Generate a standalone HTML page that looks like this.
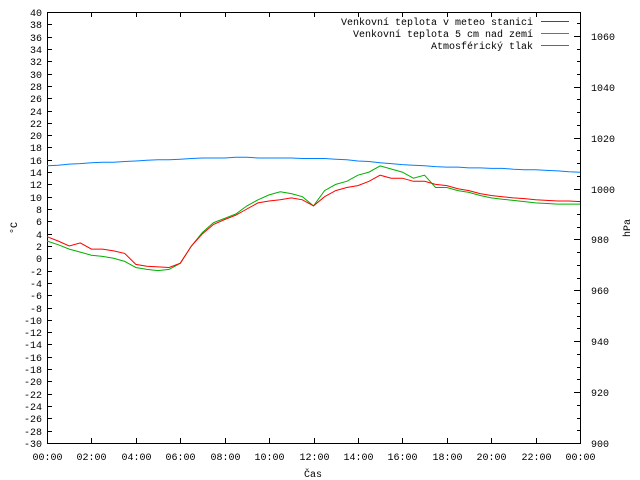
<!DOCTYPE html>
<html><head><meta charset="utf-8"><style>
body{margin:0;background:#fff}
svg{display:block}
text{font-family:"Liberation Mono","DejaVu Sans Mono",monospace;font-size:10px;fill:#000}
line,rect{shape-rendering:crispEdges}
</style></head><body>
<svg id="chart" width="640" height="480"></svg>
<script>
const timeLabels=["00:00","02:00","04:00","06:00","08:00","10:00","12:00","14:00","16:00","18:00","20:00","22:00","00:00"];
const hours=[0,0.5,1,1.5,2,2.5,3,3.5,4,4.5,5,5.5,6,6.5,7,7.5,8,8.5,9,9.5,10,10.5,11,11.5,12,12.5,13,13.5,14,14.5,15,15.5,16,16.5,17,17.5,18,18.5,19,19.5,20,20.5,21,21.5,22,22.5,23,23.5,24];
const tempStation=[3.5,2.8,2.0,2.5,1.5,1.5,1.2,0.8,-1.0,-1.3,-1.4,-1.5,-0.8,2.0,4.0,5.5,6.3,7.0,8.0,9.0,9.3,9.5,9.8,9.5,8.5,10,11,11.5,11.8,12.5,13.5,13,13,12.5,12.5,12.0,11.8,11.3,11.0,10.5,10.2,10.0,9.8,9.7,9.5,9.4,9.3,9.3,9.2];
const tempGround=[2.8,2.2,1.5,1.0,0.5,0.3,0,-0.5,-1.5,-1.8,-2.0,-1.8,-0.8,2.0,4.2,5.8,6.5,7.2,8.5,9.5,10.3,10.8,10.5,10.0,8.5,11,12,12.5,13.5,14,15,14.5,14,13,13.5,11.5,11.5,11,10.7,10.2,9.8,9.6,9.4,9.2,9.0,8.9,8.8,8.8,8.8];
const pressure=[1008.9,1009.1,1009.6,1009.8,1010.1,1010.3,1010.3,1010.6,1010.8,1011.1,1011.3,1011.3,1011.5,1011.8,1012.0,1012.0,1012.0,1012.3,1012.3,1012.0,1012.0,1012.0,1012.0,1011.8,1011.8,1011.8,1011.5,1011.3,1010.8,1010.6,1010.1,1009.8,1009.4,1009.1,1008.9,1008.6,1008.4,1008.4,1008.1,1008.1,1007.9,1007.9,1007.6,1007.4,1007.4,1007.1,1006.9,1006.6,1006.4];
const yTicks=[];for(let v=-30;v<=40;v+=2)yTicks.push(v);
const y2Ticks=[900,920,940,960,980,1000,1020,1040,1060];
const legendLabels=["Venkovní teplota v meteo stanici","Venkovní teplota 5 cm nad zemí","Atmosférický tlak"];

const L=47,R=580,T=12,B=443;
const x=h=>L+(R-L)*h/24;
const y=v=>B-(B-T)*(v+30)/70;
const y2=p=>B-(p-900)*2.545;
const svg=document.getElementById('chart');
const NS="http://www.w3.org/2000/svg";
function mk(tag,at,parent){const e=document.createElementNS(NS,tag);for(const k in at)e.setAttribute(k,at[k]);(parent||svg).appendChild(e);return e;}

const frame=mk('rect',{x:L+.5,y:T+.5,width:R-L,height:B-T,fill:'none',stroke:'#000','stroke-width':1});



yTicks.forEach(v=>{
  const yy=Math.round(y(v))+.5;
  const t=mk('line',{x1:L,x2:L+5,y1:yy,y2:yy,stroke:'#000'});
  
  
  const lb=mk('text',{x:L-5,y:yy+3.5,'text-anchor':'end'});
  lb.textContent=v;
  
  
});
for(let p=900;p<=1065;p+=5){
  const yy=Math.round(y2(p))+.5;
  const len=p%20===0?6:3;
  const t=mk('line',{x1:R-len,x2:R,y1:yy,y2:yy,stroke:'#000'});
  
  
}
y2Ticks.forEach(p=>{
  const lb=mk('text',{x:591,y:Math.round(y2(p))+4});
  lb.textContent=p;
  
  
});
timeLabels.forEach((s,i)=>{
  const xx=Math.round(x(i*2))+.5;
  const t=mk('line',{x1:xx,x2:xx,y1:B-5,y2:B,stroke:'#000'});
  
  
  const t2=mk('line',{x1:xx,x2:xx,y1:T,y2:T+5,stroke:'#000'});
  
  
  const lb=mk('text',{x:xx,y:460,'text-anchor':'middle'});
  lb.textContent=s;
  
  
});
const xt=mk('text',{x:313,y:477,'text-anchor':'middle'});xt.textContent='Čas';


const yt=mk('text',{x:17,y:228,'text-anchor':'middle',transform:'rotate(-90 17 228)'});yt.textContent='°C';


const y2t=mk('text',{x:630,y:228,'text-anchor':'middle',transform:'rotate(-90 630 228)'});y2t.textContent='hPa';



function series(vals,fy,color,name){
  const d=vals.map((v,i)=>(i?'L':'M')+x(hours[i]).toFixed(1)+','+fy(v).toFixed(1)).join('');
  const p=mk('path',{d:d,fill:'none',stroke:color,'stroke-width':1});
  
  
}
series(pressure,y2,'#0080ff','pressure-line');
series(tempGround,y,'#00b000','ground-temp-line');
series(tempStation,y,'#ff0000','station-temp-line');

const colors=['#ff0000','#00c000','#0080ff'];
legendLabels.forEach((s,i)=>{
  const yy=21+i*12;
  const lb=mk('text',{x:533,y:yy+4,'text-anchor':'end'});lb.textContent=s;
  
  
  const ln=mk('line',{x1:541,x2:569,y1:yy+.5,y2:yy+.5,stroke:colors[i]});
  
  
});
</script>
</body></html>
